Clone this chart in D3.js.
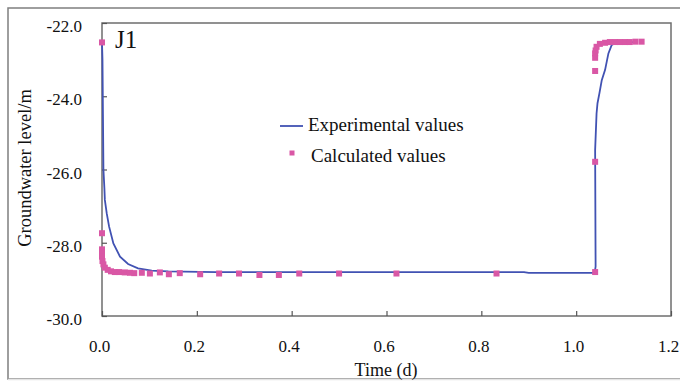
<!DOCTYPE html>
<html>
<head>
<meta charset="utf-8">
<script src="https://cdn.jsdelivr.net/npm/d3@7"></script>
<style>
  body { margin: 0; background: #fff; }
  svg { display: block; font-family: "Liberation Serif", "Times New Roman", serif; }
  svg text { font-family: "Liberation Serif", "Times New Roman", serif; }
</style>
</head>
<body>
<svg id="chart" width="680" height="381"></svg>
<script>
// experimental curve (time in days, level in m)
let expT = [0, 0.001, 0.002, 0.003, 0.005, 0.006, 0.010, 0.015, 0.024, 0.038, 0.055, 0.076, 0.105, 0.140, 0.24, 0.89, 0.90, 1.039, 1.041, 1.040, 1.043, 1.045, 1.049, 1.054, 1.061, 1.068, 1.075, 1.085, 1.13];
let expV = [-22.55, -23.0, -24.5, -26.0, -26.5, -26.83, -27.2, -27.56, -28.02, -28.38, -28.58, -28.70, -28.76, -28.78, -28.80, -28.80, -28.82, -28.82, -28.65, -25.47, -24.47, -24.19, -23.92, -23.56, -23.28, -22.83, -22.6, -22.53, -22.52];

// calculated points
let calcT = [0, 0, 0, 0, 0, 0.001, 0.003, 0.006, 0.012, 0.019, 0.027, 0.036, 0.048, 0.059, 0.068, 0.084, 0.101, 0.122, 0.141, 0.164, 0.207, 0.247, 0.289, 0.332, 0.373, 0.416, 0.500, 0.621, 0.832, 1.040, 1.040, 1.040, 1.040, 1.040, 1.041, 1.043, 1.050, 1.061, 1.071, 1.082, 1.092, 1.103, 1.113, 1.125, 1.138];
let calcV = [-22.53, -27.74, -28.18, -28.29, -28.38, -28.50, -28.59, -28.68, -28.74, -28.78, -28.80, -28.80, -28.81, -28.82, -28.83, -28.82, -28.84, -28.81, -28.86, -28.83, -28.86, -28.84, -28.84, -28.88, -28.88, -28.84, -28.84, -28.84, -28.84, -28.80, -25.79, -23.31, -22.95, -22.83, -22.75, -22.65, -22.57, -22.54, -22.52, -22.52, -22.52, -22.52, -22.52, -22.51, -22.51];

let xTicks = [0, 0.2, 0.4, 0.6, 0.8, 1.0, 1.2];
let yTicks = [-22, -24, -26, -28, -30];

let svg = d3.select("#chart");
let pLeft = 102, pRight = 671, pTop = 23, pBottom = 316;

let x = d3.scaleLinear().domain([0, 1.2]).range([pLeft, pRight]);
let y = d3.scaleLinear().domain([-30, -22]).range([pBottom, pTop]);

// outer chart frame
svg.append("rect")
  .attr("x", 8).attr("y", 8).attr("width", 700).attr("height", 371)
  .attr("fill", "none").attr("stroke", "#7f7f7f").attr("stroke-width", 1.5);
svg.append("line")
  .attr("x1", 8).attr("x2", 680).attr("y1", 379.5).attr("y2", 379.5)
  .attr("stroke", "#e4e4e4").attr("stroke-width", 1.5);

// plot frame
svg.append("rect")
  .attr("x", pLeft).attr("y", pTop).attr("width", pRight - pLeft).attr("height", pBottom - pTop)
  .attr("fill", "none").attr("stroke", "#6e6e6e").attr("stroke-width", 1.5);

let xAxis = svg.append("g")
  .attr("transform", "translate(0," + pBottom + ")")
  .call(d3.axisBottom(x).tickValues(xTicks).tickSize(-5).tickPadding(24).tickFormat(d => d.toFixed(1)))
  .attr("font-family", null);
xAxis.select(".domain").remove();
xAxis.selectAll("line").attr("stroke", "#555").attr("stroke-width", 1.2);
xAxis.selectAll("text").attr("font-size", 17).attr("fill", "#111").attr("dx", -3)
  .style("font-family", "'Liberation Serif', serif");

let yAxis = svg.append("g")
  .attr("transform", "translate(" + pLeft + ",0)")
  .call(d3.axisLeft(y).tickValues(yTicks).tickSize(-5).tickPadding(20).tickFormat(d => d.toFixed(1)))
  .attr("font-family", null);
yAxis.select(".domain").remove();
yAxis.selectAll("line").attr("stroke", "#555").attr("stroke-width", 1.2);
yAxis.selectAll("text").attr("font-size", 17).attr("fill", "#111").attr("dy", "0.5em")
  .style("font-family", "'Liberation Serif', serif");

// axis titles
svg.append("text")
  .attr("x", 386).attr("y", 376)
  .attr("text-anchor", "middle").attr("font-size", 18).attr("fill", "#111")
  .text("Time (d)");
svg.append("text")
  .attr("transform", "translate(31,168) rotate(-90)")
  .attr("text-anchor", "middle").attr("font-size", 18.5).attr("fill", "#111")
  .text("Groundwater level/m");

svg.append("text")
  .attr("x", 115).attr("y", 48)
  .attr("font-size", 25).attr("fill", "#111")
  .text("J1");

// experimental line
let expData = expT.map((t, i) => [t, expV[i]]);
svg.append("path")
  .datum(expData)
  .attr("fill", "none")
  .attr("stroke", "#4152b3")
  .attr("stroke-width", 1.8)
  .attr("d", d3.line().x(d => x(d[0])).y(d => y(d[1])));

// calculated markers
let calcData = calcT.map((t, i) => [t, calcV[i]]);
svg.append("g").selectAll("rect")
  .data(calcData)
  .enter()
  .append("rect")
    .attr("x", d => x(d[0]) - 3)
    .attr("y", d => y(d[1]) - 3)
    .attr("width", 6).attr("height", 6)
    .attr("fill", "#d957a5");

// legend
let legend = svg.append("g");
legend.append("line")
  .attr("x1", 280).attr("x2", 303).attr("y1", 126).attr("y2", 126)
  .attr("stroke", "#4152b3").attr("stroke-width", 1.8);
legend.append("text")
  .attr("x", 308).attr("y", 131).attr("font-size", 19).attr("fill", "#111")
  .text("Experimental values");
legend.append("rect")
  .attr("x", 289.5).attr("y", 150.5).attr("width", 5).attr("height", 5)
  .attr("fill", "#d957a5");
legend.append("text")
  .attr("x", 311).attr("y", 161.5).attr("font-size", 19).attr("fill", "#111")
  .text("Calculated values");
</script>
</body>
</html>
